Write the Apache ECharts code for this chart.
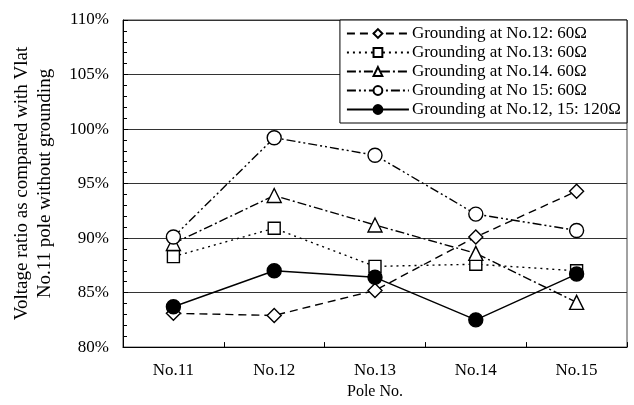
<!DOCTYPE html>
<html>
<head>
<meta charset="utf-8">
<script src="https://cdn.jsdelivr.net/npm/echarts@6/dist/echarts.min.js"></script>
<style>html,body{margin:0;padding:0;background:#fff}#c{width:634px;height:405px}</style>
</head>
<body>
<div id="c"></div>
<script>
var categories = ['No.11', 'No.12', 'No.13', 'No.14', 'No.15'];
var g12 = [83.1, 82.9, 85.2, 90.1, 94.3];
var g13 = [88.3, 90.9, 87.4, 87.6, 87.0];
var g14 = [89.5, 93.9, 91.2, 88.6, 84.1];
var g15 = [90.1, 99.2, 97.6, 92.2, 90.7];
var g1215 = [83.7, 87.0, 86.4, 82.5, 86.7];
var names = ['Grounding at No.12: 60\u03A9', 'Grounding at No.13: 60\u03A9', 'Grounding at No.14. 60\u03A9', 'Grounding at No 15: 60\u03A9', 'Grounding at No.12, 15: 120\u03A9'];

var FONT = "'Liberation Serif', 'Times New Roman', serif";
function mk(name, data, symbol, size, dash, filled) {
  return {
    name: name, type: 'line', data: data, symbol: symbol, symbolSize: size,
    lineStyle: { color: '#000', width: 1.4, type: dash },
    itemStyle: { color: filled ? '#000' : '#fff', borderColor: '#000', borderWidth: 1.4 },
    z: filled ? 3 : 2
  };
}
var chart = echarts.init(document.getElementById('c'), null, { renderer: 'canvas' });
chart.setOption({
  backgroundColor: '#fff',
  animation: false,
  textStyle: { fontFamily: FONT, color: '#000' },
  grid: { left: 123, right: 7, top: 20, bottom: 56, show: true, borderColor: '#444', borderWidth: 1 },
  legend: {
    orient: 'vertical', right: 7, top: 20,
    backgroundColor: '#fff', borderColor: '#000', borderWidth: 1,
    padding: [5, 6, 5, 6], itemWidth: 62, itemHeight: 11, itemGap: 2,
    textStyle: { fontFamily: FONT, fontSize: 17, color: '#000', padding: [0, 0, 0, -2] },
    data: names
  },
  xAxis: {
    type: 'category', data: categories, boundaryGap: true,
    name: 'Pole No.', nameLocation: 'middle', nameGap: 32,
    nameTextStyle: { fontFamily: FONT, fontSize: 16, color: '#000' },
    axisLine: { lineStyle: { color: '#000', width: 1 } },
    axisTick: { show: true, inside: true, length: 5, lineStyle: { color: '#000' } },
    axisLabel: { fontFamily: FONT, fontSize: 17, color: '#000', margin: 15 }
  },
  yAxis: {
    type: 'value', min: 80, max: 110, interval: 5,
    name: 'Voltage ratio as compared with Vlat\nNo.11 pole without grounding',
    nameLocation: 'middle', nameGap: 66,
    nameTextStyle: { fontFamily: FONT, fontSize: 19, color: '#000', lineHeight: 23 },
    axisLine: { show: true, lineStyle: { color: '#000', width: 1 } },
    axisTick: { show: true, inside: true, length: 5, lineStyle: { color: '#000' } },
    minorTick: { show: true, splitNumber: 5, length: 4, lineStyle: { color: '#000' } },
    axisLabel: { fontFamily: FONT, fontSize: 17, color: '#000', margin: 14, formatter: '{value}%' },
    splitLine: { show: true, lineStyle: { color: '#333', width: 1 } }
  },
  series: [
    mk(names[0], g12, 'diamond', 14, [8, 5], false),
    mk(names[1], g13, 'rect', 12, [2, 4], false),
    mk(names[2], g14, 'triangle', 14, [9, 3, 2, 3], false),
    mk(names[3], g15, 'circle', 14, [9, 3, 2, 3, 2, 3], false),
    mk(names[4], g1215, 'circle', 14, 'solid', true)
  ]
});
</script>
</body>
</html>
